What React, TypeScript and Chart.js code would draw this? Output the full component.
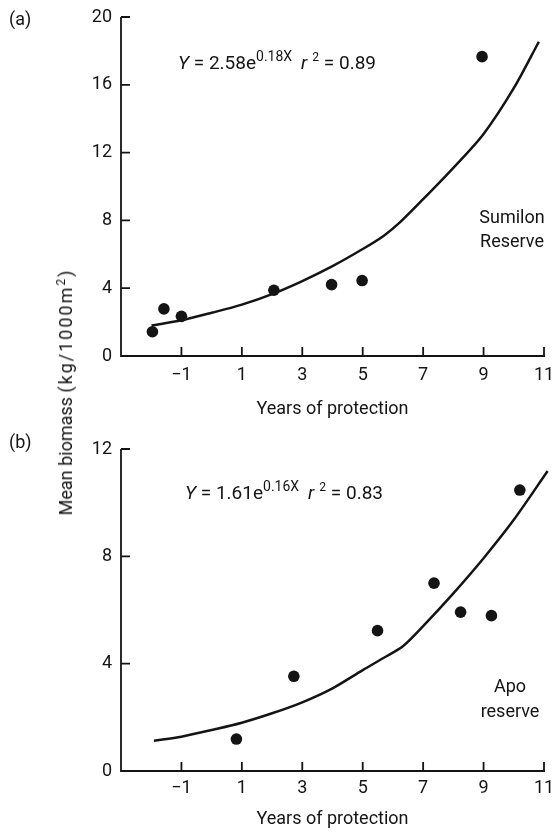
import React, { useEffect, useRef } from 'react';
import { Chart, registerables } from 'chart.js';

Chart.register(...registerables);

// ---------- data ----------
const xTickValues = [-1, 1, 3, 5, 7, 9, 11];
const yTicksA = [0, 4, 8, 12, 16, 20];
const yTicksB = [0, 4, 8, 12];

// (a) Sumilon Reserve observations
const sumilonYears = [-1.96, -1.58, -1.0, 2.06, 3.97, 4.98, 8.95];
const sumilonBiomass = [1.43, 2.78, 2.34, 3.88, 4.21, 4.45, 17.66];
// (a) fitted curve
const sumilonFitYears = [-1.99, -1, 0, 1, 2, 3, 4, 5, 5.7, 6.23, 7, 8, 9, 10, 10.83];
const sumilonFitBiomass = [1.8, 2.11, 2.55, 3.03, 3.65, 4.42, 5.3, 6.31, 7.1, 7.88, 9.25, 11.1, 13.1, 15.8, 18.54];

// (b) Apo reserve observations
const apoYears = [0.82, 2.72, 5.49, 7.36, 8.24, 9.26, 10.2];
const apoBiomass = [1.19, 3.53, 5.23, 7.0, 5.92, 5.79, 10.47];
// (b) fitted curve
const apoFitYears = [-1.91, -1, 0, 1, 2, 3, 4, 5, 5.7, 6.34, 7, 8, 9, 10, 11.12];
const apoFitBiomass = [1.13, 1.28, 1.53, 1.8, 2.15, 2.56, 3.08, 3.76, 4.22, 4.66, 5.4, 6.62, 7.93, 9.36, 11.18];

const eqA = { a: '2.58', b: '0.18', r2: '0.89' };
const eqB = { a: '1.61', b: '0.16', r2: '0.83' };

const xTitle = 'Years of protection';

// ---------- style ----------
const INK = '#141414';
const FONT = 'Roboto';
const TICK = 9;

type Run = { text: string; italic?: boolean; size?: number; raise?: number; gap?: number };

function drawRuns(ctx: CanvasRenderingContext2D, runs: Run[], x: number, baseline: number) {
  let cx = x;
  for (const r of runs) {
    ctx.font = `${r.italic ? 'italic ' : ''}${r.size ?? 19}px ${FONT}`;
    ctx.fillText(r.text, cx, baseline - (r.raise ?? 0));
    cx += ctx.measureText(r.text).width + (r.gap ?? 0);
  }
}

function eqRuns(e: { a: string; b: string; r2: string }): Run[] {
  return [
    { text: 'Y', italic: true },
    { text: ` = ${e.a}e` },
    { text: `${e.b}X`, size: 14, raise: 8, gap: 9 },
    { text: 'r', italic: true, gap: 5 },
    { text: '2', size: 12, raise: 8 },
    { text: ` = ${e.r2}` },
  ];
}

interface Panel {
  height: number;
  padTop: number;
  xAxisHeight: number;
  xTickPad: number;
  titlePadBottom: number;
  yMax: number;
  yTicks: number[];
  xs: number[];
  ys: number[];
  fx: number[];
  fy: number[];
  letter: string;
  letterBaseline: number;
  eq: Run[];
  eqX: number;
  eqBaseline: number;
  site: string[];
  siteX: number;
  siteBaselines: number[];
}

const panelA: Panel = {
  height: 420,
  padTop: 17,
  xAxisHeight: 64,
  xTickPad: 9,
  titlePadBottom: 0,
  yMax: 20,
  yTicks: yTicksA,
  xs: sumilonYears,
  ys: sumilonBiomass,
  fx: sumilonFitYears,
  fy: sumilonFitBiomass,
  letter: '(a)',
  letterBaseline: 25,
  eq: eqRuns(eqA),
  eqX: 178,
  eqBaseline: 68.5,
  site: ['Sumilon', 'Reserve'],
  siteX: 512,
  siteBaselines: [223, 247],
};

const panelB: Panel = {
  height: 412,
  padTop: 29,
  xAxisHeight: 61,
  xTickPad: 7,
  titlePadBottom: 1.5,
  yMax: 12,
  yTicks: yTicksB,
  xs: apoYears,
  ys: apoBiomass,
  fx: apoFitYears,
  fy: apoFitBiomass,
  letter: '(b)',
  letterBaseline: 27.5,
  eq: eqRuns(eqB),
  eqX: 185,
  eqBaseline: 78.5,
  site: ['Apo', 'reserve'],
  siteX: 510,
  siteBaselines: [272, 297],
};

const fmt = (v: number) => (v < 0 ? '\u2212' + Math.abs(v) : String(v));

function PanelChart({ p, top }: { p: Panel; top: number }) {
  const ref = useRef<HTMLCanvasElement>(null);

  useEffect(() => {
    const canvas = ref.current;
    if (!canvas) return;
    const font = { family: FONT, size: 18 };

    const decor = {
      id: 'decor',
      beforeDatasetsDraw(chart: any) {
        const { ctx, chartArea: a, scales } = chart;
        const xs = scales.x;
        const ys = scales.y;
        ctx.save();
        ctx.strokeStyle = INK;
        ctx.lineWidth = 1.8;
        ctx.beginPath();
        ctx.moveTo(a.left, ys.getPixelForValue(ys.max));
        ctx.lineTo(a.left, a.bottom);
        ctx.lineTo(xs.getPixelForValue(xs.max) + 1, a.bottom);
        for (const t of xs.ticks) {
          const px = xs.getPixelForValue(t.value);
          ctx.moveTo(px, a.bottom);
          ctx.lineTo(px, a.bottom - TICK);
        }
        for (const t of ys.ticks) {
          if (t.value === ys.min) continue;
          const py = ys.getPixelForValue(t.value);
          ctx.moveTo(a.left, py);
          ctx.lineTo(a.left + TICK, py);
        }
        ctx.stroke();
        ctx.restore();
      },
      afterDraw(chart: any) {
        const { ctx } = chart;
        ctx.save();
        ctx.fillStyle = INK;
        ctx.textBaseline = 'alphabetic';
        ctx.textAlign = 'left';
        ctx.font = `18px ${FONT}`;
        ctx.fillText(p.letter, 9, p.letterBaseline);
        drawRuns(ctx, p.eq, p.eqX, p.eqBaseline);
        ctx.textAlign = 'center';
        ctx.font = `18px ${FONT}`;
        p.site.forEach((s, i) => ctx.fillText(s, p.siteX, p.siteBaselines[i]));
        ctx.restore();
      },
    };

    const chart = new Chart(canvas, {
      type: 'scatter',
      data: {
        datasets: [
          {
            label: 'fit',
            data: p.fx.map((x, i) => ({ x, y: p.fy[i] })),
            showLine: true,
            borderColor: INK,
            borderWidth: 2.5,
            pointRadius: 0,
            tension: 0.3,
            fill: false,
            clip: false,
          } as any,
          {
            label: 'observed',
            data: p.xs.map((x, i) => ({ x, y: p.ys[i] })),
            showLine: false,
            pointRadius: 5.8,
            pointBackgroundColor: INK,
            pointBorderWidth: 0,
            clip: false,
          } as any,
        ],
      },
      options: {
        responsive: false,
        animation: false,
        devicePixelRatio: 1,
        events: [],
        layout: { padding: { top: p.padTop, right: 10, left: 0, bottom: 0 } },
        plugins: { legend: { display: false }, tooltip: { enabled: false } },
        scales: {
          x: {
            type: 'linear',
            min: -3,
            max: 11,
            afterBuildTicks: (s: any) => {
              s.ticks = xTickValues.map((v) => ({ value: v }));
            },
            afterFit: (s: any) => {
              s.height = p.xAxisHeight;
              s.paddingLeft = 0;
              s.paddingRight = 0;
            },
            grid: { display: false, drawTicks: false },
            border: { display: false },
            ticks: {
              padding: p.xTickPad,
              font,
              color: INK,
              autoSkip: false,
              maxRotation: 0,
              callback: (v: any) => fmt(Number(v)),
            },
            title: {
              display: true,
              text: xTitle,
              font,
              color: INK,
              padding: { top: 0, bottom: p.titlePadBottom },
            },
          },
          y: {
            type: 'linear',
            min: 0,
            max: p.yMax,
            afterBuildTicks: (s: any) => {
              s.ticks = p.yTicks.map((v) => ({ value: v }));
            },
            afterFit: (s: any) => {
              s.width = 121;
              s.paddingTop = 0;
              s.paddingBottom = 0;
            },
            grid: { display: false, drawTicks: false },
            border: { display: false },
            ticks: {
              padding: 9,
              font,
              color: INK,
              autoSkip: false,
              callback: (v: any) => fmt(Number(v)),
            },
          },
        },
      } as any,
      plugins: [decor],
    });
    return () => chart.destroy();
  }, [p]);

  return (
    <canvas
      ref={ref}
      width={554}
      height={p.height}
      style={{ position: 'absolute', left: 0, top, width: 554, height: p.height }}
    />
  );
}

export default function App() {
  return (
    <div
      style={{
        position: 'absolute',
        left: 0,
        top: 0,
        width: 554,
        height: 832,
        background: '#fff',
        fontFamily: FONT,
        color: INK,
      }}
    >
      <PanelChart p={panelA} top={0} />
      <PanelChart p={panelB} top={420} />
      <div
        style={{
          position: 'absolute',
          left: 66,
          top: 392,
          transform: 'translate(-50%, -50%) rotate(-90deg)',
          whiteSpace: 'nowrap',
          fontSize: 18,
          lineHeight: '22px',
        }}
      >
        Mean biomass{' '}
        <span style={{ letterSpacing: '2px' }}>
          (kg/1000m
          <sup style={{ fontSize: 12, lineHeight: 0, verticalAlign: '0.6em' }}>2</sup>)
        </span>
      </div>
    </div>
  );
}
